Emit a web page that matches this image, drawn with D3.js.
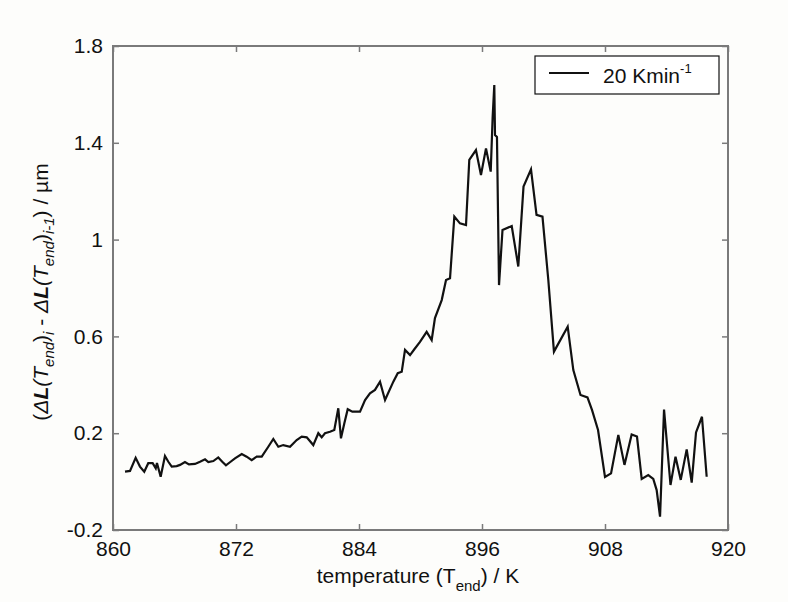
<!DOCTYPE html>
<html>
<head>
<meta charset="utf-8">
<script src="https://cdn.jsdelivr.net/npm/d3@7"></script>
<style>
  body { margin: 0; background: #fdfdfb; }
  .d3-line-chart text { font-family: "Liberation Sans", Arial, sans-serif; fill: #111; }
</style>
</head>
<body>
<div class="d3-line-chart"></div>
<script>
// temperature (K) and length change difference (um)
var temps = [861.17, 861.66, 862.21, 862.63, 863.05, 863.44, 863.87, 864.17, 864.29, 864.65,
  865.07, 865.40, 865.73, 866.21, 866.54, 867.02, 867.41, 868.00, 868.49, 868.98,
  869.30, 869.79, 870.27, 870.66, 871.02, 871.41, 871.90, 872.56, 873.04, 873.53,
  874.02, 874.51, 875.15, 875.64, 876.13, 876.61, 877.27, 877.92, 878.41, 878.90,
  879.54, 880.03, 880.36, 880.68, 881.17, 881.59, 881.98, 882.24, 882.57, 882.90,
  883.35, 884.10, 884.59, 885.07, 885.56, 886.05, 886.54, 887.35, 887.78, 888.17,
  888.49, 888.98, 889.40, 889.95, 890.60, 891.09, 891.41, 892.07, 892.49, 892.88,
  893.30, 893.85, 894.44, 894.76, 895.41, 895.90, 896.39, 896.85, 897.04, 897.20,
  897.27, 897.46, 897.66, 898.00, 898.90, 899.54, 900.05, 900.78, 901.32, 901.90,
  902.47, 903.02, 904.36, 904.91, 905.61, 906.29, 906.73, 907.32, 908.00, 908.59,
  909.30, 909.90, 910.60, 911.12, 911.58, 912.22, 912.71, 913.04, 913.37, 913.76,
  914.39, 914.88, 915.39, 915.97, 916.46, 916.88, 917.46, 917.92];

var dL = [0.041, 0.044, 0.098, 0.062, 0.041, 0.076, 0.076, 0.055, 0.077, 0.020,
  0.106, 0.082, 0.062, 0.064, 0.069, 0.081, 0.071, 0.073, 0.082, 0.092,
  0.081, 0.085, 0.100, 0.082, 0.067, 0.080, 0.096, 0.114, 0.103, 0.089,
  0.103, 0.103, 0.144, 0.176, 0.144, 0.151, 0.144, 0.172, 0.186, 0.183,
  0.151, 0.200, 0.183, 0.200, 0.206, 0.213, 0.303, 0.179, 0.241, 0.299,
  0.289, 0.289, 0.337, 0.365, 0.379, 0.413, 0.337, 0.413, 0.448, 0.454,
  0.544, 0.523, 0.547, 0.577, 0.619, 0.585, 0.676, 0.750, 0.833, 0.840,
  1.095, 1.067, 1.060, 1.329, 1.370, 1.267, 1.377, 1.281, 1.508, 1.639,
  1.432, 1.424, 0.812, 1.040, 1.056, 0.889, 1.219, 1.290, 1.102, 1.095,
  0.833, 0.537, 0.640, 0.461, 0.358, 0.348, 0.296, 0.213, 0.019, 0.034,
  0.193, 0.069, 0.195, 0.186, 0.011, 0.027, 0.011, -0.035, -0.145, 0.298,
  -0.014, 0.103, 0.007, 0.133, -0.004, 0.203, 0.268, 0.020];

var xTicks = [860, 872, 884, 896, 908, 920];
var yTicks = [-0.2, 0.2, 0.6, 1, 1.4, 1.8];
var seriesLabel = '20 Kmin';

var margins = { top: 46, right: 60, bottom: 72, left: 113 };
var width = 788 - margins.left - margins.right;
var height = 602 - margins.top - margins.bottom;
var fontSize = 21;

var x = d3.scaleLinear().domain([860, 920]).range([0, width]);
var y = d3.scaleLinear().domain([-0.2, 1.8]).range([height, 0]);

var svg = d3.select('.d3-line-chart').append('svg')
  .attr('width', 788)
  .attr('height', 602);

var graph = svg.append('g')
  .attr('transform', 'translate(' + margins.left + ',' + margins.top + ')');

// axes: ticks point inward, mirrored on top and right
var axisColor = '#7a7a7a';
function styleAxis(g) {
  g.select('.domain').remove();
  g.selectAll('.tick line').attr('stroke', axisColor).attr('stroke-width', 1.5);
  g.selectAll('.tick text').attr('font-size', fontSize).attr('fill', '#111');
}

graph.append('g')
  .attr('transform', 'translate(0,' + height + ')')
  .call(d3.axisBottom(x).tickValues(xTicks).tickSize(-6).tickPadding(11))
  .call(styleAxis);

graph.append('g')
  .call(d3.axisTop(x).tickValues(xTicks).tickSize(-6).tickFormat(''))
  .call(styleAxis);

graph.append('g')
  .call(d3.axisLeft(y).tickValues(yTicks).tickSize(-6).tickPadding(10)
    .tickFormat(function(d) { return String(d); }))
  .call(styleAxis);

graph.append('g')
  .attr('transform', 'translate(' + width + ',0)')
  .call(d3.axisRight(y).tickValues(yTicks).tickSize(-6).tickFormat(''))
  .call(styleAxis);

graph.append('rect')
  .attr('width', width)
  .attr('height', height)
  .attr('fill', 'none')
  .attr('stroke', axisColor)
  .attr('stroke-width', 2);

// the series
var line = d3.line()
  .x(function(d, i) { return x(temps[i]); })
  .y(function(d) { return y(d); });

graph.append('path')
  .attr('d', line(dL))
  .attr('fill', 'none')
  .attr('stroke', '#111')
  .attr('stroke-width', 2.2)
  .attr('stroke-linejoin', 'miter');

// legend
var legend = graph.append('g').attr('transform', 'translate(' + (width - 193) + ',10)');
legend.append('rect')
  .attr('width', 184).attr('height', 38)
  .attr('fill', '#fff').attr('stroke', '#111').attr('stroke-width', 1.2);
legend.append('line')
  .attr('x1', 14).attr('x2', 54).attr('y1', 17).attr('y2', 17)
  .attr('stroke', '#111').attr('stroke-width', 2.2);
var lt = legend.append('text').attr('x', 68).attr('y', 27).attr('font-size', fontSize);
lt.append('tspan').text(seriesLabel);
lt.append('tspan').attr('dy', -10).attr('font-size', 13).text('-1');

// x axis title
var xt = svg.append('text')
  .attr('x', 418)
  .attr('y', 583)
  .attr('text-anchor', 'middle')
  .attr('font-size', fontSize);
xt.append('tspan').text('temperature (T');
xt.append('tspan').attr('dy', 8).attr('font-size', 15).text('end');
xt.append('tspan').attr('dy', -8).text(') / K');

// y axis title
var yt = svg.append('text')
  .attr('transform', 'translate(48,' + (margins.top + height / 2 + 4) + ') rotate(-90)')
  .attr('text-anchor', 'middle')
  .attr('font-size', fontSize);
function sub(t) {
  yt.append('tspan').attr('font-style', 'italic').attr('font-size', 15).attr('dy', 6).text(t);
}
yt.append('tspan').text('(');
yt.append('tspan').attr('font-style', 'italic').text('Δ');
yt.append('tspan').attr('font-style', 'italic').attr('font-weight', 'bold').text('L');
yt.append('tspan').attr('font-style', 'italic').text('(T');
sub('end');
yt.append('tspan').attr('dy', -6).text(')');
sub('i');
yt.append('tspan').attr('dy', -6).text(' - ');
yt.append('tspan').attr('font-style', 'italic').text('Δ');
yt.append('tspan').attr('font-style', 'italic').attr('font-weight', 'bold').text('L');
yt.append('tspan').attr('font-style', 'italic').text('(T');
sub('end');
yt.append('tspan').attr('dy', -6).text(')');
sub('i-1');
yt.append('tspan').attr('dy', -6).text(') / µm');
</script>
</body>
</html>
